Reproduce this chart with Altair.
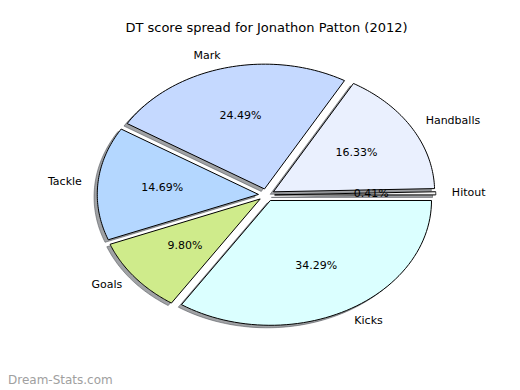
import altair as alt
import pandas as pd

# ---- data (DT points per stat, total 245) ----
labels = ["Hitout", "Handballs", "Mark", "Tackle", "Goals", "Kicks"]
points = [1, 40, 60, 36, 24, 84]
colors = ["#f4f4f4", "#eaf0fe", "#c5d9ff", "#b4d7ff", "#cfeb8b", "#dbffff"]
title_text = "DT score spread for Jonathon Patton (2012)"
watermark_text = "Dream-Stats.com"

df = pd.DataFrame({"label": labels, "value": points, "idx": list(range(len(labels)))})

EXPLODE = 0.05
NSEG = 60
FONT = "DejaVu Sans"

xs = alt.Scale(domain=[-1.25, 1.25], nice=False, zero=False)
ys = alt.Scale(domain=[-1.25, 1.25], nice=False, zero=False)

base = (
    alt.Chart(df)
    .transform_joinaggregate(total="sum(value)")
    .transform_window(cum="sum(value)", sort=[alt.SortField("idx")], frame=[None, 0])
    .transform_calculate(a0="2*PI*(datum.cum-datum.value)/datum.total")
    .transform_calculate(a1="2*PI*datum.cum/datum.total")
    .transform_calculate(mid="(datum.a0+datum.a1)/2")
    .transform_calculate(ox=f"{EXPLODE}*cos(datum.mid)")
    .transform_calculate(oy=f"{EXPLODE}*sin(datum.mid)")
    .transform_calculate(pct="format(100*datum.value/datum.total, '.2f') + '%'")
)

poly = (
    base.transform_calculate(k=f"sequence(0,{NSEG + 3})")
    .transform_flatten(["k"])
    .transform_calculate(edge=f"datum.k>0 && datum.k<{NSEG + 2}")
    .transform_calculate(ang=f"datum.a0+(datum.a1-datum.a0)*(datum.k-1)/{NSEG}")
    .transform_calculate(px="datum.ox + (datum.edge ? cos(datum.ang) : 0)")
    .transform_calculate(py="datum.oy + (datum.edge ? sin(datum.ang) : 0)")
)

shadow = (
    poly.transform_calculate(sx="datum.px-0.02", sy="datum.py-0.02")
    .mark_line(filled=True, fill="#42464c", fillOpacity=0.5, stroke="#42464c",
               strokeOpacity=0.5, strokeWidth=1, strokeJoin="miter")
    .encode(
        x=alt.X("sx:Q", scale=xs, axis=None),
        y=alt.Y("sy:Q", scale=ys, axis=None),
        order="k:Q",
        detail="label:N",
    )
)

wedges = poly.mark_line(filled=True, stroke="black", strokeWidth=1, opacity=1,
                        strokeJoin="miter").encode(
    x=alt.X("px:Q", scale=xs, axis=None),
    y=alt.Y("py:Q", scale=ys, axis=None),
    order="k:Q",
    detail="label:N",
    color=alt.Color("label:N", scale=alt.Scale(domain=labels, range=colors), legend=None),
)

lab = base.transform_calculate(
    lx="datum.ox+1.1*cos(datum.mid)", ly="datum.oy+1.1*sin(datum.mid)"
)
lab_right = lab.transform_filter("datum.lx > 0").mark_text(
    align="left", baseline="middle", font=FONT, fontSize=11, color="black"
).encode(x=alt.X("lx:Q", scale=xs, axis=None), y=alt.Y("ly:Q", scale=ys, axis=None), text="label:N")
lab_left = lab.transform_filter("datum.lx <= 0").mark_text(
    align="right", baseline="middle", font=FONT, fontSize=11, color="black"
).encode(x=alt.X("lx:Q", scale=xs, axis=None), y=alt.Y("ly:Q", scale=ys, axis=None), text="label:N")

pcts = base.transform_calculate(
    tx="datum.ox+0.6*cos(datum.mid)", ty="datum.oy+0.6*sin(datum.mid)"
).mark_text(align="center", baseline="middle", font=FONT, fontSize=11, color="black").encode(
    x=alt.X("tx:Q", scale=xs, axis=None), y=alt.Y("ty:Q", scale=ys, axis=None), text="pct:N"
)

wm = alt.Chart(pd.DataFrame({"t": [watermark_text]})).mark_text(
    align="left", baseline="middle", font=FONT, fontSize=12, color="#a0a0a0"
).encode(x=alt.value(-57), y=alt.value(341), text="t:N")

chart = (
    alt.layer(shadow, wedges, lab_right, lab_left, pcts, wm)
    .properties(
        width=403,
        height=312,
        autosize=alt.AutoSizeParams(type="none"),
        padding={"left": 57, "top": 31, "right": 44, "bottom": 39},
        title=alt.TitleParams(text=title_text, font=FONT, fontSize=13, fontWeight="normal",
                              anchor="middle", offset=4, color="black"),
    )
    .configure_view(stroke=None)
)

chart.save("out.html", embed_options={"renderer": "svg", "actions": False})
